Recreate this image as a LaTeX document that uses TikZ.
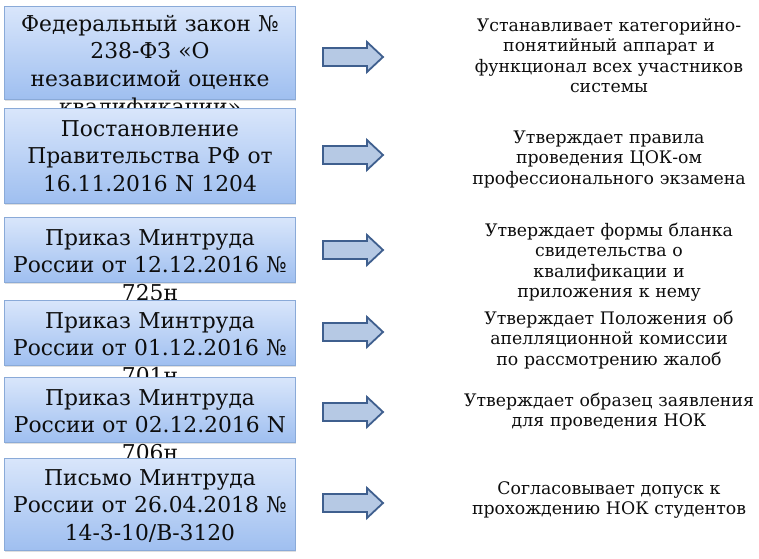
\documentclass[tikz,border=0pt]{standalone}
\usepackage{fontspec}
\setmainfont{DejaVu Serif}
\usetikzlibrary{shadows}
\definecolor{boxtop}{HTML}{D9E6FB}
\definecolor{boxbot}{HTML}{9FBFF0}
\definecolor{boxline}{HTML}{8AAAD8}
\definecolor{arrfill}{HTML}{B6C9E4}
\definecolor{arrline}{HTML}{3F5F8E}
\definecolor{txt}{HTML}{0D0D0D}
\tikzset{
  docbox/.style={rectangle, draw=boxline, line width=0.8pt, top color=boxtop, bottom color=boxbot,
    minimum width=291pt, inner sep=0pt,
    drop shadow={opacity=0.25, shadow xshift=1.2pt, shadow yshift=-1.5pt}},
  lefttext/.style={anchor=base, text width=300pt, align=center, inner sep=0pt, text=txt,
    font=\fontsize{21.8}{27.7}\selectfont},
  righttext/.style={anchor=base, text width=320pt, align=center, inner sep=0pt, text=txt,
    font=\fontsize{17.3}{20.5}\selectfont},
  blockarrow/.style={draw=arrline, fill=arrfill, line width=1.8pt, line join=miter}
}
\begin{document}
\begin{tikzpicture}[x=1pt,y=-1pt]
\useasboundingbox (0,0) rectangle (759,558);
% boxes and their texts, drawn in order so that each box hides the text overflowing the previous one
\node[docbox, minimum height=93pt] (b1) at (149.5,52.5) {};
\node[lefttext] (t1) at (150,31) {Федеральный закон №\\238-ФЗ «О\\независимой оценке\\квалификации»};
\node[docbox, minimum height=95pt] (b2) at (149.5,155.5) {};
\node[lefttext] (t2) at (150,136) {Постановление\\Правительства РФ от\\16.11.2016 N 1204};
\node[docbox, minimum height=65pt] (b3) at (149.5,249.5) {};
\node[lefttext] (t3) at (150,245) {Приказ Минтруда\\России от 12.12.2016 №\\725н};
\node[docbox, minimum height=65pt] (b4) at (149.5,332.5) {};
\node[lefttext] (t4) at (150,328) {Приказ Минтруда\\России от 01.12.2016 №\\701н};
\node[docbox, minimum height=65pt] (b5) at (149.5,409.5) {};
\node[lefttext] (t5) at (150,405) {Приказ Минтруда\\России от 02.12.2016 N\\706н};
\node[docbox, minimum height=92pt] (b6) at (149.5,504) {};
\node[lefttext] (t6) at (150,485) {Письмо Минтруда\\России от 26.04.2018 №\\14-3-10/В-3120};
% arrows
\coordinate (a1) at (353,57);
\coordinate (a2) at (353,155);
\coordinate (a3) at (353,250);
\coordinate (a4) at (353,332);
\coordinate (a5) at (353,412);
\coordinate (a6) at (353,503);
\foreach \a in {a1,a2,a3,a4,a5,a6}{
  \draw[blockarrow, shift={(\a)}] (-30,-9) -- (14,-9) -- (14,-15) -- (30,0) -- (14,15) -- (14,9) -- (-30,9) -- cycle;
}
% right-hand texts
\node[righttext] (r1) at (609,31) {Устанавливает категорийно-\\понятийный аппарат и\\функционал всех участников\\системы};
\node[righttext] (r2) at (609,143) {Утверждает правила\\проведения ЦОК-ом\\профессионального экзамена};
\node[righttext] (r3) at (609,236) {Утверждает формы бланка\\свидетельства о\\квалификации и\\приложения к нему};
\node[righttext] (r4) at (609,324) {Утверждает Положения об\\апелляционной комиссии\\по рассмотрению жалоб};
\node[righttext] (r5) at (609,406) {Утверждает образец заявления\\для проведения НОК};
\node[righttext] (r6) at (609,494) {Согласовывает допуск к\\прохождению НОК студентов};
\end{tikzpicture}
\end{document}
